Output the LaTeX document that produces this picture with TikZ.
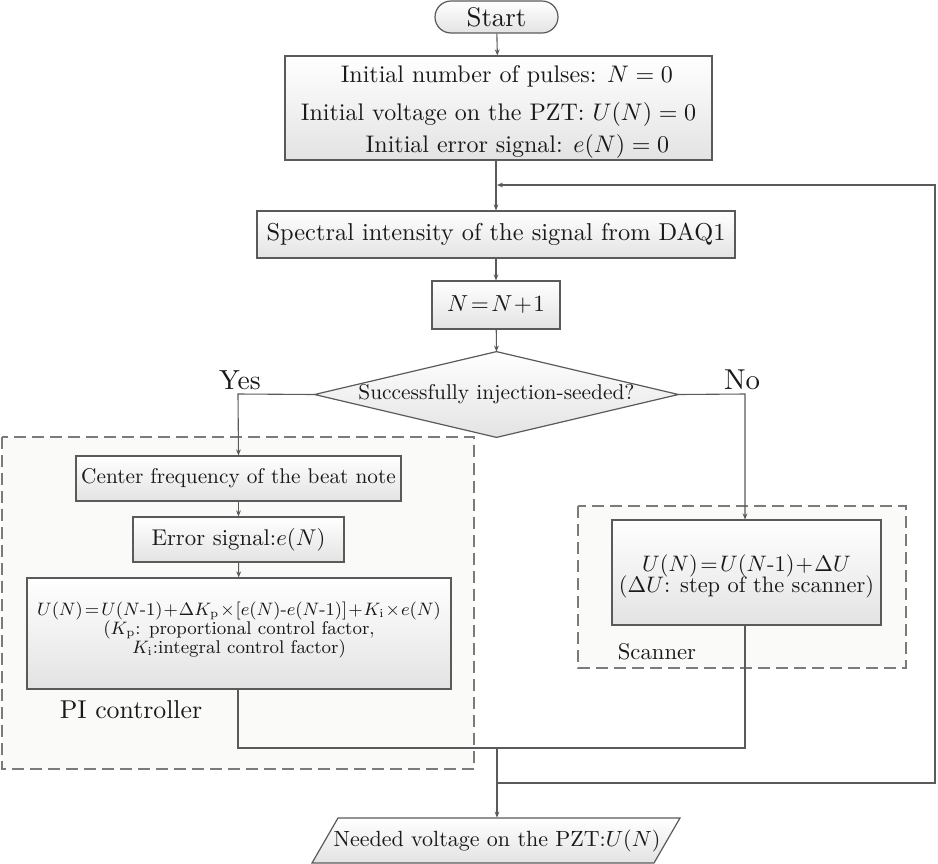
\documentclass[tikz,border=0pt]{standalone}
\usepackage{amsmath}
\usetikzlibrary{arrows.meta,shapes.geometric,shapes.misc}
\definecolor{ln}{HTML}{5A5A5A}
\definecolor{dashfill}{HTML}{FAFAF8}
\newcommand\tx[2]{\scalebox{#1}{\fontsize{10}{12}\selectfont #2}}
\newcommand\ctab[1]{\begin{tabular}{@{}c@{}}#1\end{tabular}}
\tikzset{
  shade box/.style={shading=axis, top color=white, bottom color=black!11},
  box/.style={draw=ln, line width=0.6pt, shade box, inner sep=0pt, text=black!90},
  conn/.style={draw=ln, line width=0.55pt},
  arr/.style={conn, -{Stealth[length=3pt,width=2.4pt]}},
  group/.style={draw=ln!80, line width=0.8pt, dash pattern=on 6pt off 3pt, fill=dashfill},
  lbl/.style={inner sep=0pt, text=black!90},
  plain/.style={inner sep=0pt, text=black!90}
}
\begin{document}
\begin{tikzpicture}[x=0.5pt,y=-0.5pt]
\useasboundingbox (0,0) rectangle (938,863);
% groups
\path[group] (2,437) rectangle (474,769);
\path[group] (578,506) rectangle (906,668);
% nodes
\node[box, rounded rectangle, minimum width=61.5pt, minimum height=16pt] (start) at (496.5,17) {\tx{1.345}{Start}};
\node[box, minimum width=213.5pt, minimum height=52pt] (init) at (498.5,108) {};
\node[plain] (initt) at (498.5,112)
  {\tx{1.2}{\ctab{\hspace*{7pt}Initial number of pulses: $N=0$\\[3.8pt]
   Initial voltage on the PZT: $U(N)=0$\\[1.3pt]
   \hspace*{15.8pt}Initial error signal: $e(N)=0$}}};
\node[box, minimum width=239pt, minimum height=23.5pt] (spec) at (496,234.5) {\tx{1.22}{Spectral intensity of the signal from DAQ1}};
\node[box, minimum width=64pt, minimum height=24pt] (incr) at (496,305) {\tx{1.16}{$N\!=\!N\!+\!1$}};
\node[plain, minimum width=181.5pt, minimum height=42.5pt] (dec) at (496.5,394.5) {};
\path[draw=ln, line width=0.6pt, shade box] (dec.north) -- (dec.east) -- (dec.south) -- (dec.west) -- cycle;
\node[plain] (dect) at (dec.center) {\tx{1.07}{Successfully injection-seeded?}};
\node[box, minimum width=162.5pt, minimum height=22.5pt] (cf) at (238.5,478.5) {\tx{1.064}{Center frequency of the beat note}};
\node[box, minimum width=105.5pt, minimum height=22.5pt] (err) at (238.5,539.5) {\tx{1.14}{Error signal:$e(N)$}};
\node[box, minimum width=212pt, minimum height=55.5pt] (pi) at (239,633.5) {};
\node[plain, align=center, font=\fontsize{9.2}{9.6}\selectfont] (pit) at (239,630)
  {$U(N)\!=\!U(N\text{-}1)\!+\!\Delta K_{\mathrm p}\!\times\![e(N)\text{-}e(N\text{-}1)]\!+\!K_{\mathrm i}\!\times\! e(N)$\\
   ($K_{\mathrm p}$: proportional control factor,\\
   $K_{\mathrm i}$:integral control factor)};
\node[box, minimum width=134.5pt, minimum height=52.5pt] (sc) at (746.5,572.5) {};
\node[plain] (sct) at (746.5,576.5)
  {\tx{1.12}{\ctab{$U(N)\!=\!U(N\text{-}1)\!+\!\Delta U$\\[-2.6pt] ($\Delta U$: step of the scanner)}}};
\node[plain, minimum width=171pt, minimum height=22.5pt] (out) at (497,840.5) {};
\path[draw=ln, line width=0.6pt, shade box] (312,863) -- (338,818) -- (680,818) -- (654,863) -- cycle;
\node[plain] (outt) at (out.center) {\tx{1.1}{Needed voltage on the PZT:$U(N)$}};
% labels
\node[lbl] (yes) at (240,380) {\tx{1.38}{Yes}};
\node[lbl] (no) at (742,380) {\tx{1.44}{No}};
\node[lbl] (pil) at (131,710) {\tx{1.29}{PI controller}};
\node[lbl] (scl) at (657,652) {\tx{1.135}{Scanner}};
% coordinates
\coordinate (yc) at (238,394);
\coordinate (nc) at (745,394);
\coordinate (jl) at (238,748);
\coordinate (jr) at (745,748);
\coordinate (jm) at (497,748);
\coordinate (lb) at (497,783);
\coordinate (lr) at (935,783);
\coordinate (lt) at (935,185);
\coordinate (li) at (497,185);
% connectors
\draw[arr] (start) -- (init);
\draw[arr] (init.south -| spec.north) -- (spec.north);
\draw[arr] (spec) -- (incr);
\draw[arr] (incr) -- (dec.north);
\draw[arr] (dec.west) -- (yc) -- (cf.north);
\draw[arr] (dec.east) -- (nc) -- (sc.north -| nc);
\draw[arr] (cf) -- (err);
\draw[arr] (err) -- (pi);
\draw[conn] (pi.south -| jl) -- (jl) -- (jr) -- (sc.south -| jr);
\draw[arr] (jm) -- (jm |- out.north);
\draw[arr] (lb) -- (lr) -- (lt) -- (li);
\end{tikzpicture}
\end{document}
